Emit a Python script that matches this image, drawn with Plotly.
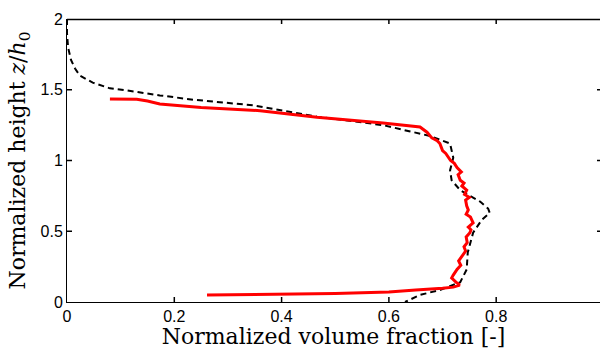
import plotly.graph_objects as go

# Dashed black curve (model)
model_x = [0.0, 0.0, 0.002, 0.004, 0.0075, 0.015, 0.024, 0.048, 0.08, 0.112, 0.173, 0.235,
           0.347, 0.466, 0.589, 0.64, 0.675, 0.714, 0.72, 0.714, 0.717, 0.733, 0.77, 0.785,
           0.788, 0.773, 0.757, 0.747, 0.745, 0.733, 0.695, 0.658, 0.63]
model_y = [2.0, 1.9, 1.8, 1.76, 1.71, 1.65, 1.60, 1.55, 1.51, 1.495, 1.46, 1.43,
           1.39, 1.31, 1.25, 1.205, 1.175, 1.12, 1.02, 0.93, 0.86, 0.79, 0.71, 0.66,
           0.63, 0.58, 0.49, 0.35, 0.23, 0.14, 0.085, 0.05, 0.0]

# Red curve (measurement)
meas_x = [0.08, 0.13, 0.15, 0.173, 0.25, 0.36, 0.466, 0.589, 0.658, 0.671, 0.68, 0.69,
          0.695, 0.70, 0.706, 0.715, 0.722, 0.727, 0.735, 0.729, 0.733, 0.74, 0.736,
          0.745, 0.741, 0.75, 0.743, 0.745, 0.748, 0.744, 0.752, 0.757, 0.748, 0.753,
          0.751, 0.744, 0.746, 0.74, 0.743, 0.736, 0.73, 0.734, 0.727, 0.72, 0.717,
          0.725, 0.732, 0.72, 0.70, 0.65, 0.6, 0.5, 0.4, 0.3, 0.261]
meas_y = [1.435, 1.432, 1.42, 1.40, 1.375, 1.352, 1.305, 1.265, 1.237, 1.20, 1.16, 1.14,
          1.12, 1.07, 1.05, 1.0, 0.98, 0.95, 0.92, 0.90, 0.86, 0.84, 0.82,
          0.79, 0.76, 0.74, 0.72, 0.68, 0.65, 0.62, 0.60, 0.56, 0.53, 0.51,
          0.49, 0.46, 0.42, 0.39, 0.36, 0.32, 0.29, 0.26, 0.23, 0.19, 0.17,
          0.14, 0.12, 0.105, 0.097, 0.085, 0.07, 0.06, 0.055, 0.05, 0.05]

x_ticks = [0, 0.2, 0.4, 0.6, 0.8, 1]
x_ticklabels = ["0", "0.2", "0.4", "0.6", "0.8", "1"]
y_ticks = [0, 0.5, 1, 1.5, 2]
y_ticklabels = ["0", "0.5", "1", "1.5", "2"]

W, H = 600, 349
ML, MR, MT, MB = 67, 0, 19, 47
PW, PH = W - ML - MR, H - MT - MB
TICK = 5
X_MAX = 0.9935

fig = go.Figure()
fig.add_trace(go.Scatter(x=model_x, y=model_y, mode="lines",
                         line=dict(color="black", width=2, dash="6px,4px"),
                         showlegend=False))
fig.add_trace(go.Scatter(x=meas_x, y=meas_y, mode="lines",
                         line=dict(color="#ff0000", width=3),
                         showlegend=False))

title_font = dict(family="DejaVu Serif", size=22, color="black")
tick_font = dict(family="Liberation Sans, Arial", size=16, color="black")

# frame top line and inward tick marks (axis decoration)
tick_line = dict(color="black", width=1.5)
fig.add_shape(type="line", xref="paper", yref="paper", x0=0, x1=1,
              y0=1 - 0.5 / PH, y1=1 - 0.5 / PH,
              line=dict(color="black", width=1.5), layer="above")
for t in x_ticks:
    if 0 < t < X_MAX:
        fig.add_shape(type="line", xref="x", yref="paper", x0=t, x1=t,
                      y0=0, y1=TICK / PH, line=tick_line, layer="above")
        fig.add_shape(type="line", xref="x", yref="paper", x0=t, x1=t,
                      y0=1, y1=1 - TICK / PH, line=tick_line, layer="above")
for t in y_ticks:
    if 0 < t < 2:
        fig.add_shape(type="line", xref="paper", yref="y", x0=0, x1=TICK / PW,
                      y0=t, y1=t, line=tick_line, layer="above")
        fig.add_shape(type="line", xref="paper", yref="y", x0=1 - 3 / PW, x1=1,
                      y0=t, y1=t, line=tick_line, layer="above")

fig.update_layout(
    template="none",
    width=W, height=H,
    margin=dict(l=ML, r=MR, t=MT, b=MB),
    paper_bgcolor="white", plot_bgcolor="white",
    xaxis=dict(range=[0, X_MAX], tickmode="array", tickvals=x_ticks,
               ticktext=x_ticklabels, ticks="", showline=True,
               linecolor="black", linewidth=1, showgrid=False, zeroline=False,
               tickfont=tick_font,
               title=dict(text="Normalized volume fraction [-]", font=title_font,
                          standoff=8)),
    yaxis=dict(range=[0, 2], tickmode="array", tickvals=y_ticks,
               ticktext=y_ticklabels, ticks="", showline=True,
               linecolor="black", linewidth=1, showgrid=False, zeroline=False,
               tickfont=tick_font,
               title=dict(text="Normalized height <i>z</i>/<i>h</i><sub>0</sub>",
                          font=title_font, standoff=8)),
)

fig.write_html("out.html")
